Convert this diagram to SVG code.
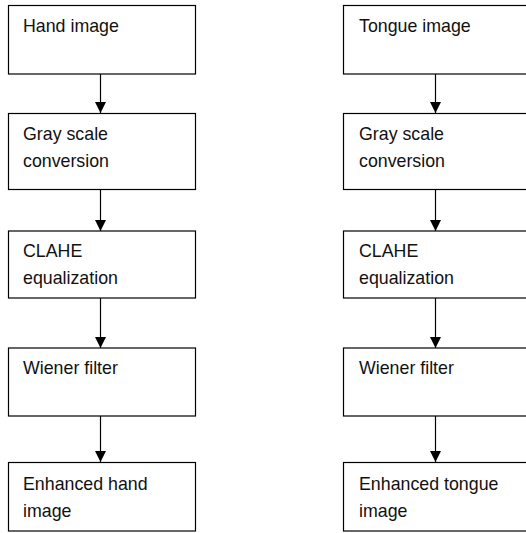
<svg xmlns="http://www.w3.org/2000/svg" width="526" height="533" viewBox="0 0 526 533">
<defs>
<style>
.box{fill:#fff;stroke:#000;stroke-width:1.2}
.t{font-family:"Liberation Sans",Arial,sans-serif;font-size:17.8px;fill:#111}
.c{stroke:#000;stroke-width:1.2;fill:none;marker-end:url(#ah)}
</style>
<marker id="ah" viewBox="0 0 10 11" refX="11" refY="5.5" markerWidth="10" markerHeight="11" markerUnits="userSpaceOnUse" orient="auto">
<path d="M0,0 L11,5.5 L0,11 Z" fill="#000"/>
</marker>
</defs>
<rect width="526" height="533" fill="#fff"/>
<g id="connectors">
<line class="c" x1="100.5" y1="74" x2="100.5" y2="113"/>
<line class="c" x1="100.5" y1="189" x2="100.5" y2="231"/>
<line class="c" x1="100.5" y1="298" x2="100.5" y2="348"/>
<line class="c" x1="100.5" y1="416" x2="100.5" y2="462"/>
<line class="c" x1="435.5" y1="74" x2="435.5" y2="113"/>
<line class="c" x1="435.5" y1="189" x2="435.5" y2="231"/>
<line class="c" x1="435.5" y1="298" x2="435.5" y2="348"/>
<line class="c" x1="435.5" y1="416" x2="435.5" y2="462"/>
</g>
<g id="hand-image"><rect class="box" x="8.5" y="5.5" width="187" height="68.5"/><text class="t" x="23" y="32">Hand image</text></g>
<g id="hand-gray"><rect class="box" x="8.5" y="113.5" width="187" height="76"/><text class="t" x="23" y="139.5">Gray scale</text><text class="t" x="23" y="166.5">conversion</text></g>
<g id="hand-clahe"><rect class="box" x="8.5" y="231" width="187" height="67"/><text class="t" x="23" y="256.5">CLAHE</text><text class="t" x="23" y="283.5">equalization</text></g>
<g id="hand-wiener"><rect class="box" x="8.5" y="348" width="187" height="68"/><text class="t" x="23" y="373.5">Wiener filter</text></g>
<g id="hand-enhanced"><rect class="box" x="8.5" y="462.5" width="187" height="68.5"/><text class="t" x="23" y="489.5">Enhanced  hand</text><text class="t" x="23" y="516.5">image</text></g>
<g id="tongue-image"><rect class="box" x="343.5" y="5.5" width="187" height="68.5"/><text class="t" x="359" y="32">Tongue image</text></g>
<g id="tongue-gray"><rect class="box" x="343.5" y="113.5" width="187" height="76"/><text class="t" x="359" y="139.5">Gray scale</text><text class="t" x="359" y="166.5">conversion</text></g>
<g id="tongue-clahe"><rect class="box" x="343.5" y="231" width="187" height="67"/><text class="t" x="359" y="256.5">CLAHE</text><text class="t" x="359" y="283.5">equalization</text></g>
<g id="tongue-wiener"><rect class="box" x="343.5" y="348" width="187" height="68"/><text class="t" x="359" y="373.5">Wiener filter</text></g>
<g id="tongue-enhanced"><rect class="box" x="343.5" y="462.5" width="187" height="68.5"/><text class="t" x="359" y="489.5">Enhanced tongue</text><text class="t" x="359" y="516.5">image</text></g>
</svg>
